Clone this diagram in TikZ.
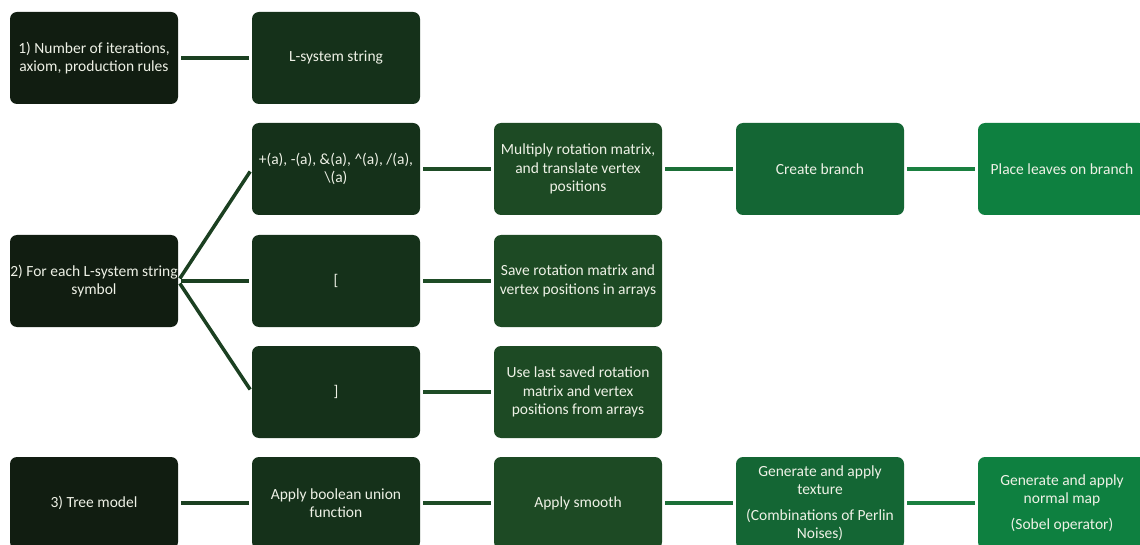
\documentclass[tikz,border=0pt]{standalone}
\usepackage{fontspec}
\setmainfont{Carlito}
\definecolor{cone}{HTML}{111D11}
\definecolor{ctwo}{HTML}{15311A}
\definecolor{cthree}{HTML}{1D4A24}
\definecolor{cfour}{HTML}{146634}
\definecolor{cfive}{HTML}{0E8040}
\definecolor{ltwo}{HTML}{1B4021}
\definecolor{lthree}{HTML}{1E4C26}
\definecolor{lfour}{HTML}{1B6F37}
\definecolor{lfive}{HTML}{1A8040}
\definecolor{txt}{HTML}{EEF1E6}
\begin{document}
\begin{tikzpicture}[x=1pt,y=-1pt,
  box/.style={rounded corners=7pt,minimum width=168pt,minimum height=92pt,
    align=center,text=txt,font=\fontsize{15.5}{18.5}\selectfont,inner sep=0pt},
  link/.style={line width=4pt,shorten <=3pt,shorten >=3pt}]
  \clip (0,0) rectangle (1140,545);
  \fill[white] (0,0) rectangle (1140,545);
  % first column
  \node[box,fill=cone] (input) at (94,58) {1) Number of iterations,\\axiom, production rules};
  \node[box,fill=cone] (symbol) at (94,281) {2) For each L-system string\\symbol};
  \node[box,fill=cone] (tree) at (94,503) {3) Tree model};
  % second column
  \node[box,fill=ctwo] (lstring) at (336,58) {L-system string};
  \node[box,fill=ctwo] (turn) at (336,169) {+(a), -(a), \&(a), \textasciicircum(a), /(a),\\\textbackslash(a)};
  \node[box,fill=ctwo] (push) at (336,281) {[};
  \node[box,fill=ctwo] (pop) at (336,392) {]};
  \node[box,fill=ctwo] (union) at (336,503) {Apply boolean union\\function};
  % third column
  \node[box,fill=cthree] (rotate) at (578,169) {Multiply rotation matrix,\\and translate vertex\\positions};
  \node[box,fill=cthree] (save) at (578,281) {Save rotation matrix and\\vertex positions in arrays};
  \node[box,fill=cthree] (load) at (578,392) {Use last saved rotation\\matrix and vertex\\positions from arrays};
  \node[box,fill=cthree] (smooth) at (578,503) {Apply smooth};
  % fourth and fifth column
  \node[box,fill=cfour] (branch) at (820,169) {Create branch};
  \node[box,fill=cfour] (texture) at (820,503) {Generate and apply\\texture\\[7pt](Combinations of Perlin\\Noises)};
  \node[box,fill=cfive] (leaves) at (1062,169) {Place leaves on branch};
  \node[box,fill=cfive] (normal) at (1062,503) {Generate and apply\\normal map\\[7pt](Sobel operator)};
  % connectors
  \draw[link,ltwo] (input) -- (lstring);
  \draw[link,ltwo] (tree) -- (union);
  \foreach \n in {turn,push,pop}
    \draw[link,ltwo,line width=3.5pt] (symbol.east) -- (\n.west);
  \draw[link,lthree] (turn) -- (rotate);
  \draw[link,lthree] (push) -- (save);
  \draw[link,lthree] (pop) -- (load);
  \draw[link,lthree] (union) -- (smooth);
  \draw[link,lfour] (rotate) -- (branch);
  \draw[link,lfour] (smooth) -- (texture);
  \draw[link,lfive] (branch) -- (leaves);
  \draw[link,lfive] (texture) -- (normal);
\end{tikzpicture}
\end{document}
